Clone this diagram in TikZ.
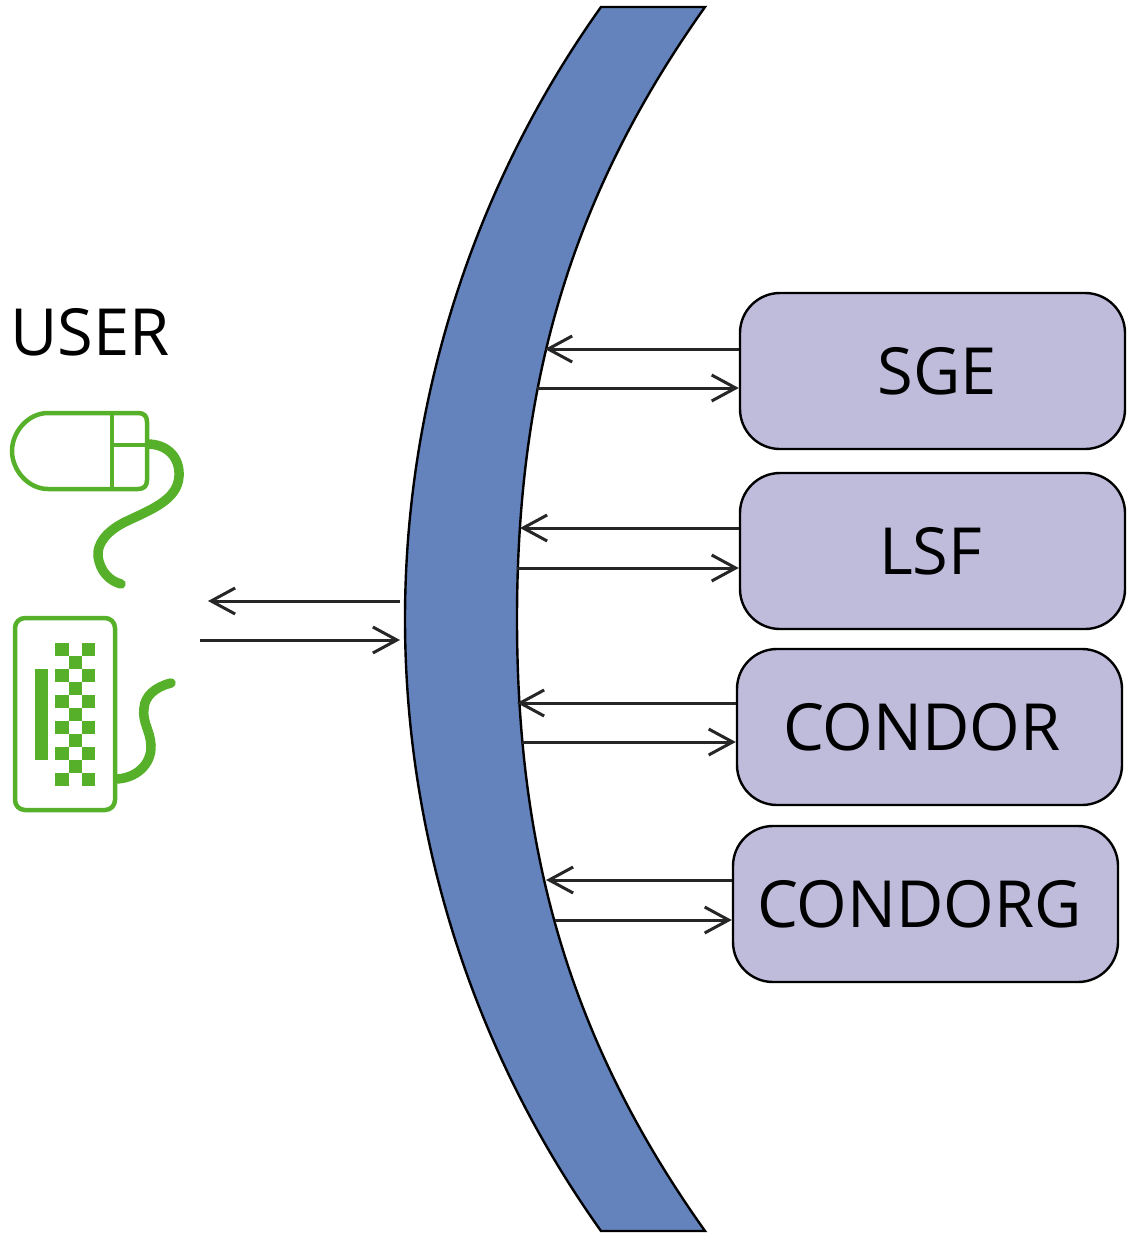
\documentclass[tikz,border=0pt]{standalone}
\usepackage{fontspec}
\setmainfont{Open Sans}
\usetikzlibrary{arrows.meta}
\definecolor{bandblue}{HTML}{6483BD}
\definecolor{boxviolet}{HTML}{BEBBDB}
\definecolor{usergreen}{HTML}{56B02A}
\newcommand{\schedtext}[2]{\raisebox{-2.5pt}{\hspace*{#1pt}#2}}
\tikzset{
  >={Straight Barb[length=24pt,width=26pt,line width=3pt]},
  sched/.style={rectangle,rounded corners=40pt,draw,line width=2.4pt,fill=boxviolet,minimum width=385pt,minimum height=156pt,inner sep=0pt,font=\fontsize{65}{65}\selectfont},
  link/.style={->,line width=3pt,black!85},
  icon/.style={draw=usergreen,line width=4.5pt},
  cord/.style={draw=usergreen,line width=9.5pt,line cap=round}
}
\begin{document}
\begin{tikzpicture}[x=1pt,y=-1pt]
  \useasboundingbox (0,0) rectangle (1131,1233);
  % middle band
  \draw[fill=bandblue,line width=2.4pt] (601,7) .. controls (474,185) and (405,400) .. (405,619)
    .. controls (405,838) and (474,1053) .. (601,1231) -- (705,1231)
    .. controls (575,1048) and (517,863) .. (517,619)
    .. controls (517,375) and (575,190) .. (705,7) -- cycle;
  % schedulers
  \node[sched] (sge) at (932.5,371) {\schedtext{9}{SGE}};
  \node[sched] (lsf) at (932.5,551) {\schedtext{-4}{LSF}};
  \node[sched] (condor) at (929.5,727) {\schedtext{-15}{CONDOR}};
  \node[sched] (condorg) at (925.5,904) {\schedtext{-12}{CONDORG}};
  \coordinate (sgeIn) at (545,349);
  \coordinate (sgeOut) at (537,388);
  \coordinate (lsfIn) at (520,528);
  \coordinate (lsfOut) at (517,568);
  \coordinate (condorIn) at (517,703);
  \coordinate (condorOut) at (522,742);
  \coordinate (condorgIn) at (546,880);
  \coordinate (condorgOut) at (555,920);
  \draw[link] (sge.west |- sgeIn) -- (sgeIn);
  \draw[link] (sgeOut) -- (sge.west |- sgeOut);
  \draw[link] (lsf.west |- lsfIn) -- (lsfIn);
  \draw[link] (lsfOut) -- (lsf.west |- lsfOut);
  \draw[link] (condor.west |- condorIn) -- (condorIn);
  \draw[link] (condorOut) -- (condor.west |- condorOut);
  \draw[link] (condorg.west |- condorgIn) -- (condorgIn);
  \draw[link] (condorgOut) -- (condorg.west |- condorgOut);
  % user side
  \node[inner sep=0pt,font=\fontsize{65}{65}\selectfont] (user) at (90,332) {USER};
  \coordinate (userIn) at (208,601);
  \coordinate (userOut) at (200,640);
  \coordinate (bandIn) at (400,640);
  \coordinate (bandOut) at (400,601);
  \draw[link] (bandOut) -- (userIn);
  \draw[link] (userOut) -- (bandIn);
  % mouse
  \draw[icon] (48,413) -- (138,413) .. controls (144,413) and (147,416) .. (147,422)
    -- (147,480) .. controls (147,486) and (144,489) .. (138,489) -- (48,489)
    .. controls (28,489) and (12,470) .. (12,451) .. controls (12,432) and (28,413) .. (48,413) -- cycle;
  \draw[icon] (112,413) -- (112,489);
  \draw[icon] (112,445) -- (147,445);
  \draw[cord,line cap=butt] (147,444) .. controls (168,444) and (180,458) .. (179,476)
    .. controls (178,500) and (150,510) .. (125,522);
  \draw[cord] (125,522) .. controls (105,532) and (97,545) .. (98,556)
    .. controls (100,572) and (110,581) .. (121,584);
  % keyboard
  \draw[icon,rounded corners=10pt] (15,618) rectangle (115,810);
  \fill[usergreen] (35,669) rectangle (48,760);
  \foreach \row in {0,...,5} {
    \fill[usergreen] (55,643+26*\row) rectangle (69,656+26*\row);
    \fill[usergreen] (82,643+26*\row) rectangle (95,656+26*\row);
  }
  \foreach \row in {0,...,4}
    \fill[usergreen] (69,656+26*\row) rectangle (82,669+26*\row);
  \draw[cord,line cap=butt] (115,779) .. controls (135,779) and (152,765) .. (151,745)
    .. controls (150,730) and (142,722) .. (144,708);
  \draw[cord] (144,708) .. controls (145,696) and (155,687) .. (171,683);
\end{tikzpicture}
\end{document}
